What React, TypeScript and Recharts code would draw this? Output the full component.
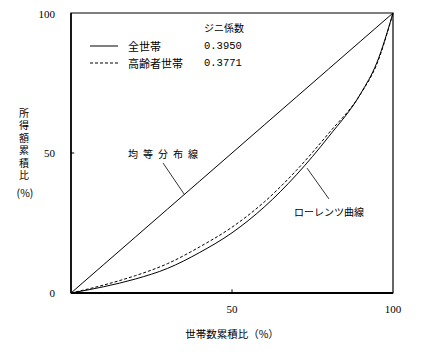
import React from 'react'
import { LineChart, Line, XAxis, YAxis, ReferenceLine, ReferenceArea } from 'recharts'

// cumulative share of households (%)
const share = [0, 10, 20, 30, 40, 50, 60, 70, 80, 90, 95, 100]
// cumulative share of income (%)
const allHouseholds = [0, 2.2, 5, 8.8, 14.5, 21.5, 30.7, 42.2, 55.8, 71.3, 82.3, 100]
const elderlyHouseholds = [0, 2.8, 6.2, 10.5, 16.5, 23.5, 32.5, 43.8, 57, 71.2, 81.8, 100]

const xTicks = [50, 100]
const yTicks = [0, 50, 100]

const legendRows = [
    { name: '全世帯', gini: '0.3950', dash: undefined },
    { name: '高齢者世帯', gini: '0.3771', dash: '3 2' },
]

const data = share.map((s, i) => ({
    x: s,
    eq: s,
    all: allHouseholds[i],
    elderly: elderlyHouseholds[i],
}))

const JP = '"Noto Sans CJK JP", sans-serif'
const W = 436
const H = 354

const App = () => {
    return (
        <div style={{ position: 'relative', width: W, height: H, fontFamily: JP }}>
            <LineChart
                width={W}
                height={H}
                data={data}
                margin={{ top: 5, right: 51, left: 0, bottom: 39 }}
            >
                <XAxis
                    dataKey="x"
                    type="number"
                    domain={[0, 100]}
                    ticks={xTicks}
                    tickSize={0}
                    tickMargin={12}
                    height={30}
                    axisLine={{ stroke: '#000', strokeWidth: 2 }}
                    tick={{ fill: '#000', fontSize: 11, fontFamily: '"Liberation Serif", serif' }}
                />
                <YAxis
                    type="number"
                    domain={[0, 100]}
                    ticks={yTicks}
                    tickSize={0}
                    tickMargin={16}
                    width={63}
                    axisLine={{ stroke: '#000', strokeWidth: 1.5 }}
                    tick={{ fill: '#000', fontSize: 11, fontFamily: '"Liberation Serif", serif' }}
                />

                {/* box around the plot */}
                <ReferenceArea x1={0} x2={100} y1={0} y2={100} fill="none" stroke="#000" strokeWidth={1.2} />

                {/* small inward ticks at 50 */}
                <ReferenceLine segment={[{ x: 0, y: 50 }, { x: 1, y: 50 }]} stroke="#000" />
                <ReferenceLine segment={[{ x: 50, y: 0 }, { x: 50, y: 1.3 }]} stroke="#000" />

                {/* leader lines */}
                <ReferenceLine segment={[{ x: 28.6, y: 46.4 }, { x: 35.2, y: 35.2 }]} stroke="#000" strokeWidth={0.8} />
                <ReferenceLine segment={[{ x: 73.3, y: 44.6 }, { x: 80.1, y: 33.6 }]} stroke="#000" strokeWidth={0.8} />

                <Line dataKey="eq" type="linear" stroke="#000" strokeWidth={1} dot={false} isAnimationActive={false} />
                <Line dataKey="elderly" type="monotone" stroke="#000" strokeWidth={1} strokeDasharray="3 2" dot={false} isAnimationActive={false} />
                <Line dataKey="all" type="monotone" stroke="#000" strokeWidth={1} dot={false} isAnimationActive={false} />
            </LineChart>

            <svg width={W} height={H} style={{ position: 'absolute', left: 0, top: 0, pointerEvents: 'none' }}>
                <text x={196} y={19} fontSize={10} dominantBaseline="central" fill="#000">ジニ係数</text>
                {legendRows.map((r, i) => (
                    <g key={r.name}>
                        <line x1={82} x2={110} y1={38 + i * 17} y2={38 + i * 17} stroke="#000" strokeDasharray={r.dash} />
                        <text x={120} y={38 + i * 17} fontSize={11} dominantBaseline="central" fill="#000">{r.name}</text>
                        <text x={196} y={38 + i * 17} fontSize={10.5} fontFamily='"Liberation Mono", monospace' dominantBaseline="central" fill="#000">{r.gini}</text>
                    </g>
                ))}

                <text x={120} y={145} fontSize={10} letterSpacing={5} dominantBaseline="central" fill="#000">均等分布線</text>
                <text x={286} y={203} fontSize={10} dominantBaseline="central" fill="#000">ローレンツ曲線</text>

                <text x={16} y={100} fontSize={10} letterSpacing={2.5} style={{ writingMode: 'vertical-rl' }} fill="#000">所得額累積比</text>
                <text x={17} y={184} fontSize={10.5} textAnchor="middle" dominantBaseline="central" fill="#000">(%)</text>

                <text x={224} y={325} fontSize={10.5} textAnchor="middle" dominantBaseline="central" fill="#000">世帯数累積比（%）</text>
            </svg>
        </div>
    )
}

export default App
